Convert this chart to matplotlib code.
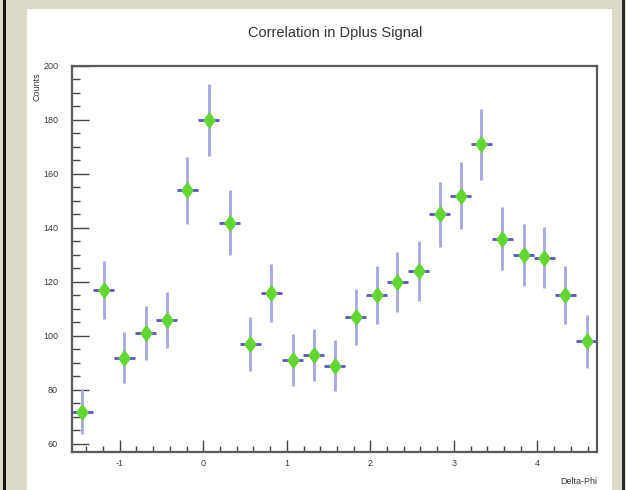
import numpy as np
import matplotlib.pyplot as plt
from matplotlib.patches import Rectangle
from matplotlib.ticker import MultipleLocator

plt.rcParams['font.family'] = ['Liberation Sans Narrow', 'Liberation Sans', 'DejaVu Sans']
plt.rcParams['axes.unicode_minus'] = False

# delta-phi histogram, 25 bins over [-pi/2, 3pi/2]
nbins = 25
counts = [72, 117, 92, 101, 106, 154, 180, 142, 97, 116, 91, 93, 89,
          107, 115, 120, 124, 145, 152, 171, 136, 130, 129, 115, 98]

edges = np.linspace(-np.pi / 2, 3 * np.pi / 2, nbins + 1)
centers = 0.5 * (edges[:-1] + edges[1:])
half_w = 0.5 * (edges[1] - edges[0])
y = np.array(counts, dtype=float)
yerr = np.sqrt(y)

fig = plt.figure(figsize=(6.26, 4.90), dpi=100)
fig.patch.set_facecolor('#dcd9c6')

# white canvas and dark edges
fig.add_artist(Rectangle((27 / 626, 0), (612 - 27) / 626, 1 - 9 / 490,
                         transform=fig.transFigure, facecolor='white',
                         edgecolor='none', zorder=0))
fig.add_artist(Rectangle((3 / 626, 0), 3 / 626, 1, transform=fig.transFigure,
                         facecolor='#151515', edgecolor='none', zorder=0))
fig.add_artist(Rectangle((622 / 626, 0), 3 / 626, 1, transform=fig.transFigure,
                         facecolor='#2a2a2a', edgecolor='none', zorder=0))

ax = fig.add_axes([72 / 626, 1 - 452 / 490, (597 - 72) / 626, (452 - 66) / 490])
ax.set_facecolor('white')

ax.errorbar(centers, y, yerr=yerr, fmt='none', ecolor='#a6a6e4', elinewidth=2.0,
            capsize=0, zorder=2)
ax.errorbar(centers, y, xerr=half_w, fmt='none', ecolor='#5656c4', elinewidth=2.0,
            capsize=0, zorder=3)
diamond = [(0, 1), (0.72, 0), (0, -1), (-0.72, 0), (0, 1)]
ax.plot(centers, y, linestyle='none', marker=diamond, markersize=11,
        markerfacecolor='#62d632', markeredgecolor='#62d632', zorder=4)

ax.set_xlim(-np.pi / 2, 3 * np.pi / 2)
ax.set_ylim(57, 200)

ax.xaxis.set_major_locator(MultipleLocator(1))
ax.xaxis.set_minor_locator(MultipleLocator(0.2))
ax.yaxis.set_major_locator(MultipleLocator(20))
ax.yaxis.set_minor_locator(MultipleLocator(5))
ax.tick_params(which='both', direction='in', top=False, right=False,
               colors='#444444', labelcolor='#3a3a3a', labelsize=6.5, width=1)
ax.tick_params(axis='y', which='major', length=12, pad=10)
ax.tick_params(axis='y', which='minor', length=6)
ax.tick_params(axis='x', which='major', length=9, pad=5)
ax.tick_params(axis='x', which='minor', length=4.5)

for s in ax.spines.values():
    s.set_color('#5a5a5a')
    s.set_linewidth(1.6)

fig.text(335 / 626, 1 - 33 / 490, 'Correlation in Dplus Signal', ha='center',
         va='center', fontsize=10.5, color='#333333')
fig.text(37 / 626, 1 - 72 / 490, 'Counts', ha='center', va='top', rotation=90,
         fontsize=6.5, color='#3a3a3a')
fig.text(597 / 626, 1 - 481 / 490, 'Delta-Phi', ha='right', va='center',
         fontsize=6.5, color='#3a3a3a')

fig.savefig('out.png', dpi=100)
